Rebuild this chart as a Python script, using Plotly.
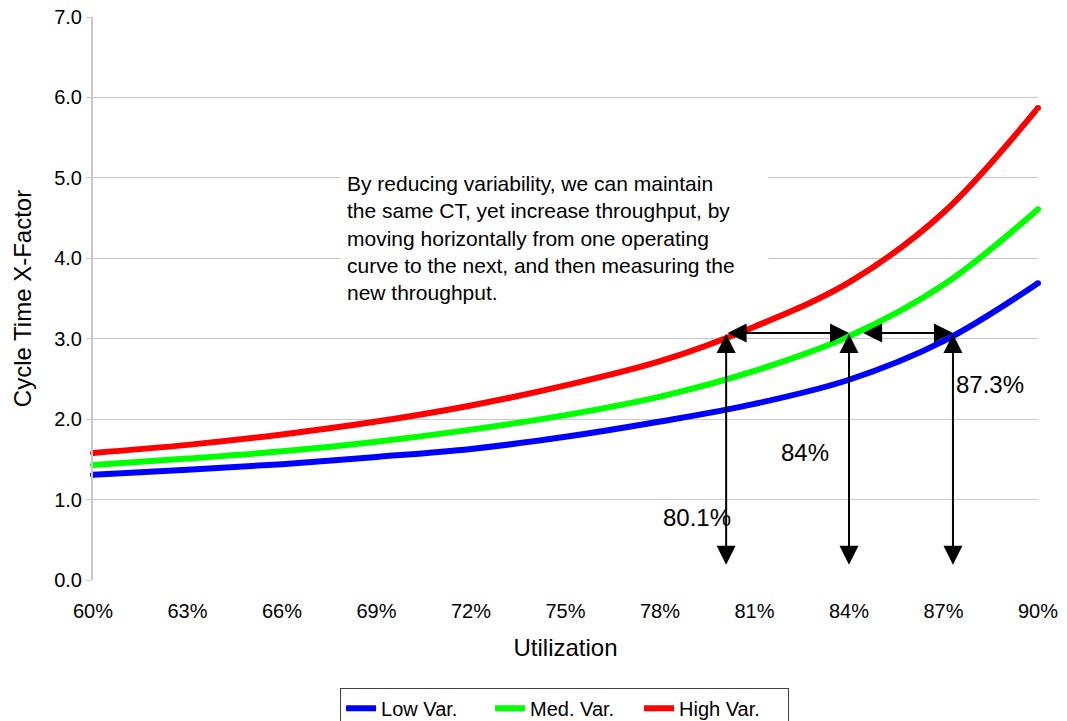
import plotly.graph_objects as go

# Utilization levels (fraction) and cycle-time X-factor for each variability level
utilization = [0.60, 0.63, 0.66, 0.69, 0.72, 0.75, 0.78, 0.81, 0.84, 0.87, 0.90]
low_var = [1.31, 1.37, 1.44, 1.53, 1.63, 1.78, 1.97, 2.19, 2.49, 2.97, 3.69]
med_var = [1.43, 1.51, 1.60, 1.72, 1.87, 2.05, 2.28, 2.60, 3.03, 3.67, 4.61]
high_var = [1.58, 1.68, 1.81, 1.97, 2.17, 2.42, 2.72, 3.15, 3.70, 4.57, 5.87]

series_names = ["Low Var.", "Med. Var.", "High Var."]
series_colors = ["#0000FF", "#00FF00", "#FF0000"]

# Target cycle-time X-factor and the utilization reached on each curve
target_ct = 3.0
crossing_util = [0.801, 0.84, 0.873]
crossing_labels = ["80.1%", "84%", "87.3%"]

x_ticks = [0.60, 0.63, 0.66, 0.69, 0.72, 0.75, 0.78, 0.81, 0.84, 0.87, 0.90]
y_ticks = [0, 1, 2, 3, 4, 5, 6, 7]

FONT = "Liberation Sans, Arial, sans-serif"

fig = go.Figure()
for name, color, vals in zip(series_names, series_colors, [low_var, med_var, high_var]):
    fig.add_trace(go.Scatter(
        x=utilization, y=vals, name=name, mode="lines",
        line=dict(color=color, width=6, shape="spline", smoothing=1.0),
    ))
    # rounded caps at both ends of each curve
    fig.add_trace(go.Scatter(
        x=[utilization[0], utilization[-1]], y=[vals[0], vals[-1]],
        mode="markers", marker=dict(color=color, size=6, line=dict(width=0)),
        showlegend=False, hoverinfo="skip", cliponaxis=False,
    ))

arrow_style = dict(
    showarrow=True, arrowside="end+start", arrowhead=2, arrowsize=1.9,
    arrowwidth=2, arrowcolor="black", text="", xref="x", yref="y",
    axref="x", ayref="y", standoff=0, startstandoff=0,
)

# Vertical arrows from the axis up to each curve at the target CT
for u in crossing_util:
    fig.add_annotation(x=u, y=target_ct + 0.06, ax=u, ay=0.17, **arrow_style)

# Horizontal arrows stepping from one operating curve to the next
fig.add_annotation(x=crossing_util[1], y=target_ct + 0.07,
                   ax=crossing_util[0], ay=target_ct + 0.07, **arrow_style)
fig.add_annotation(x=crossing_util[2], y=target_ct + 0.07,
                   ax=crossing_util[1] + 0.004, ay=target_ct + 0.07, **arrow_style)

# Utilization labels beside the vertical arrows
label_pos = [(0.7917, 0.78), (0.826, 1.58), (0.8848, 2.43)]
for (lx, ly), txt in zip(label_pos, crossing_labels):
    fig.add_annotation(x=lx, y=ly, text=txt, showarrow=False,
                       font=dict(family=FONT, size=24, color="black"))

# Explanatory text box
fig.add_annotation(
    x=0.6785, y=5.16, xref="x", yref="y", xanchor="left", yanchor="top",
    align="left", showarrow=False, bgcolor="white", borderpad=6, width=415,
    text=("By reducing variability, we can maintain<br>"
          "the same CT, yet increase throughput, by<br>"
          "moving horizontally from one operating<br>"
          "curve to the next, and then measuring the<br>"
          "new throughput."),
    font=dict(family=FONT, size=21, color="black"),
)

fig.update_layout(
    width=1067, height=721,
    margin=dict(l=93, r=29, t=17, b=141),
    paper_bgcolor="white", plot_bgcolor="white",
    font=dict(family=FONT, color="black"),
    legend=dict(
        orientation="h", x=0.499, xanchor="center",
        yref="container", y=0.046, yanchor="top",
        bordercolor="#404040", borderwidth=1, font=dict(size=20, color="black"),
        entrywidth=104, entrywidthmode="pixels", tracegroupgap=0,
    ),
    xaxis=dict(
        range=[0.6, 0.9], tickvals=x_ticks, tickformat=".0%",
        showgrid=False, zeroline=False, showline=False, automargin=False,
        ticks="", ticklabelstandoff=17, tickfont=dict(size=20),
        title=dict(text="Utilization", font=dict(size=24), standoff=18),
    ),
    yaxis=dict(
        range=[0, 7], tickvals=y_ticks, tickformat=".1f", automargin=False,
        showgrid=True, gridcolor="#C8C8C8", gridwidth=1,
        zeroline=False, showline=True, linecolor="#C8C8C8", linewidth=2,
        ticks="outside", ticklen=5, tickcolor="#C8C8C8",
        tickfont=dict(size=20),
        title=dict(text="Cycle Time X-Factor", font=dict(size=24), standoff=16),
    ),
)

fig.write_html("out.html")
